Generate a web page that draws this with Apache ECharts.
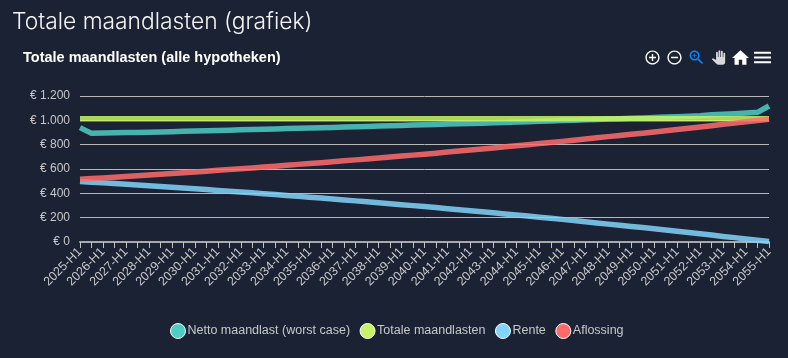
<!DOCTYPE html>
<html>
<head>
<meta charset="utf-8">
<title>Totale maandlasten</title>
<script src="https://cdn.jsdelivr.net/npm/echarts@6/dist/echarts.min.js"></script>
<style>
  html, body { margin: 0; padding: 0; background: #1b2234; }
  #chart { width: 788px; height: 358px; }
</style>
</head>
<body>
<div id="chart"></div>
<script>
const categories = [
  '2025-H1', '2025-H2', '2026-H1', '2026-H2', '2027-H1', '2027-H2', '2028-H1', '2028-H2', '2029-H1', '2029-H2',
  '2030-H1', '2030-H2', '2031-H1', '2031-H2', '2032-H1', '2032-H2', '2033-H1', '2033-H2', '2034-H1', '2034-H2',
  '2035-H1', '2035-H2', '2036-H1', '2036-H2', '2037-H1', '2037-H2', '2038-H1', '2038-H2', '2039-H1', '2039-H2',
  '2040-H1', '2040-H2', '2041-H1', '2041-H2', '2042-H1', '2042-H2', '2043-H1', '2043-H2', '2044-H1', '2044-H2',
  '2045-H1', '2045-H2', '2046-H1', '2046-H2', '2047-H1', '2047-H2', '2048-H1', '2048-H2', '2049-H1', '2049-H2',
  '2050-H1', '2050-H2', '2051-H1', '2051-H2', '2052-H1', '2052-H2', '2053-H1', '2053-H2', '2054-H1', '2054-H2',
  '2055-H1'
]
const netto = [
  940, 893, 895, 897, 899, 901, 903, 905, 907, 910,
  912, 914, 917, 919, 922, 924, 927, 929, 932, 935,
  937, 940, 942, 945, 947, 950, 953, 955, 958, 961,
  963, 966, 969, 972, 974, 977, 980, 983, 986, 989,
  992, 995, 998, 1001, 1004, 1007, 1010, 1013, 1017, 1020,
  1023, 1027, 1030, 1034, 1038, 1045, 1050, 1055, 1060, 1066,
  1118
]
const totaal = [
  1013, 1013, 1013, 1013, 1013, 1013, 1013, 1013, 1013, 1013,
  1013, 1013, 1013, 1013, 1013, 1013, 1013, 1013, 1013, 1013,
  1013, 1013, 1013, 1013, 1013, 1013, 1013, 1013, 1013, 1013,
  1013, 1013, 1013, 1013, 1013, 1013, 1013, 1013, 1013, 1013,
  1013, 1013, 1013, 1013, 1013, 1013, 1013, 1013, 1013, 1013,
  1013, 1013, 1013, 1013, 1013, 1013, 1013, 1013, 1013, 1013,
  1013
]
const rente = [
  498, 492, 486, 480, 474, 468, 462, 456, 450, 444,
  437, 431, 424, 418, 411, 404, 397, 390, 383, 375,
  368, 361, 353, 346, 338, 330, 323, 315, 307, 299,
  291, 283, 274, 266, 257, 249, 240, 231, 222, 213,
  204, 195, 186, 176, 167, 157, 147, 137, 128, 119,
  109, 99, 89, 78, 67, 57, 46, 36, 25, 15,
  4
]
const aflossing = [
  515, 521, 527, 533, 539, 545, 551, 557, 563, 569,
  576, 582, 589, 595, 602, 609, 616, 623, 630, 638,
  645, 652, 660, 667, 675, 683, 690, 698, 706, 714,
  722, 730, 739, 747, 756, 764, 773, 782, 791, 800,
  809, 818, 827, 837, 846, 856, 866, 876, 885, 894,
  904, 914, 924, 935, 946, 956, 967, 977, 988, 998,
  1009
]

const fontFamily = '"Liberation Sans", Helvetica, Arial, sans-serif'
const labelColor = '#c8c8c8'

function lineSerie (name, color, data) {
  return {
    name: name,
    type: 'line',
    data: data,
    symbol: 'none',
    color: color,
    lineStyle: { width: 5.5, opacity: 0.85, cap: 'butt', join: 'miter' }
  }
}

// toolbox icons, white unless given
function tool (title, path, color) {
  return {
    show: true,
    title: title,
    icon: 'path://' + path,
    iconStyle: { color: color || '#ffffff', borderWidth: 0 },
    onclick: function () {}
  }
}

// empty corner points make the icon box bigger, so the glyph draws smaller
const box24 = 'M0 0L0 0zM24 24L24 24z'
const box28 = 'M-2 -2L-2 -2zM26 26L26 26z'

const chart = echarts.init(document.getElementById('chart'), null, { renderer: 'canvas' })

chart.setOption({
  backgroundColor: '#1b2234',
  animation: false,
  title: [
    {
      text: 'Totale maandlasten (grafiek)',
      left: 12,
      top: 11,
      padding: 0,
      textStyle: { color: '#f4f4f4', fontFamily: 'Inter', fontWeight: 300, fontSize: 22.8 }
    },
    {
      text: 'Totale maandlasten (alle hypotheken)',
      left: 23,
      top: 50,
      padding: 0,
      textStyle: { color: '#ffffff', fontFamily: fontFamily, fontWeight: 'bold', fontSize: 14.5 }
    }
  ],
  toolbox: {
    right: 17,
    top: 49,
    padding: 0,
    itemSize: 17,
    itemGap: 5,
    feature: {
      myZoomIn: tool('Zoom in', box24 + 'M13 7h-2v4H7v2h4v4h2v-4h4v-2h-4V7zm-1-5C6.48 2 2 6.48 2 12s4.48 10 10 10 10-4.48 10-10S17.52 2 12 2zm0 18c-4.41 0-8-3.59-8-8s3.59-8 8-8 8 3.59 8 8-3.59 8-8 8z'),
      myZoomOut: tool('Zoom out', box24 + 'M7 11v2h10v-2H7zm5-9C6.48 2 2 6.48 2 12s4.48 10 10 10 10-4.48 10-10S17.52 2 12 2zm0 18c-4.41 0-8-3.59-8-8s3.59-8 8-8 8 3.59 8 8-3.59 8-8 8z'),
      myZoom: tool('Selection zoom', 'M1 1L1 1zM23 23L23 23zM15.5 14h-.79l-.28-.27C15.41 12.59 16 11.11 16 9.5 16 5.91 13.09 3 9.5 3S3 5.91 3 9.5 5.91 16 9.5 16c1.61 0 3.09-.59 4.23-1.57l.27.28v.79l5 4.99L20.49 19l-4.99-5zm-6 0C7.01 14 5 11.99 5 9.5S7.01 5 9.5 5 14 7.01 14 9.5 11.99 14 9.5 14z M12 10h-2v2h-1v-2H7V9h2V7h1v2h2v1z', '#0a84ff'),
      myPan: tool('Panning', box28 + 'M23 5.5V20c0 2.2-1.8 4-4 4h-7.3c-1.08 0-2.1-.43-2.85-1.19L1 14.83s1.26-1.23 1.3-1.25c.22-.19.49-.29.79-.29.22 0 .42.06.6.16.04.01 4.31 2.46 4.31 2.46V4c0-.83.67-1.5 1.5-1.5S11 3.17 11 4v7h1V1.5c0-.83.67-1.5 1.5-1.5S15 .67 15 1.5V11h1V2.5c0-.83.67-1.5 1.5-1.5s1.5.67 1.5 1.5V11h1V5.5c0-.83.67-1.5 1.5-1.5s1.5.67 1.5 1.5z', '#d8d8d8'),
      myReset: tool('Reset zoom', 'M10 20v-6h4v6h5v-8h3L12 3 2 12h3v8z'),
      myMenu: tool('Menu', 'M3 18h18v-2H3v2zm0-5h18v-2H3v2zm0-7v2h18V6H3z')
    }
  },
  legend: {
    left: 170,
    top: 323,
    padding: 0,
    icon: 'circle',
    itemWidth: 15,
    itemHeight: 15,
    itemGap: 9.5,
    itemStyle: { borderColor: '#ffffff', borderWidth: 1, opacity: 1 },
    lineStyle: { width: 0 },
    textStyle: { color: labelColor, fontFamily: fontFamily, fontSize: 12.5, padding: [0, 0, 0, -3] },
    data: ['Netto maandlast (worst case)', 'Totale maandlasten', 'Rente', 'Aflossing']
  },
  grid: {
    left: 80,
    right: 19,
    top: 96,
    bottom: 116
  },
  xAxis: {
    type: 'category',
    boundaryGap: false,
    data: categories,
    axisLine: { lineStyle: { color: '#a8a8a8', width: 2 } },
    axisTick: { interval: 0, length: 6, lineStyle: { color: '#c0c0c0', width: 1 } },
    axisLabel: {
      interval: 1,
      rotate: 45,
      margin: 8,
      color: labelColor,
      fontFamily: fontFamily,
      fontSize: 12.5
    }
  },
  yAxis: {
    type: 'value',
    min: 0,
    max: 1200,
    interval: 200,
    axisLine: { show: false },
    axisTick: { show: false },
    axisLabel: {
      margin: 10,
      color: labelColor,
      fontFamily: fontFamily,
      fontSize: 12,
      padding: [2, 0, 0, 0],
      formatter: function (v) {
        return '€ ' + String(v).replace(/\B(?=(\d{3})+$)/g, '.')
      }
    },
    splitLine: { show: true, lineStyle: { color: '#b8b8b8', width: 1 } }
  },
  series: [
    lineSerie('Netto maandlast (worst case)', '#4ecdc4', netto),
    lineSerie('Totale maandlasten', '#c7f464', totaal),
    lineSerie('Rente', '#81d4fa', rente),
    lineSerie('Aflossing', '#ff6b6b', aflossing)
  ]
})
</script>
</body>
</html>
